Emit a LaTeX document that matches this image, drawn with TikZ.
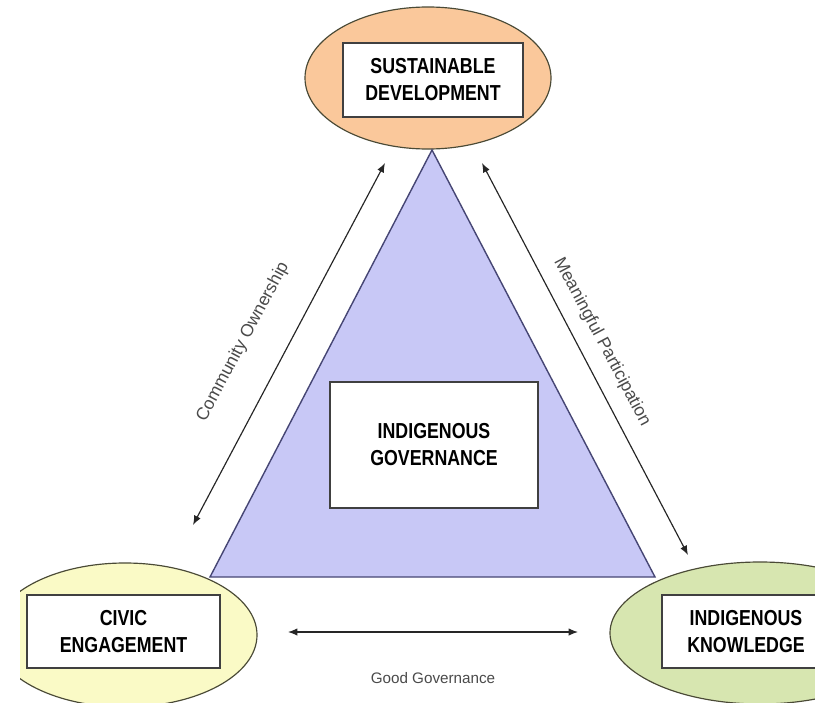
\documentclass[tikz,border=0pt]{standalone}
\usepackage{fontspec}
\setmainfont{Liberation Sans}
\newfontfamily\boxfont[FakeStretch=0.82]{Liberation Sans}
\usepackage{xcolor}
\usetikzlibrary{positioning,shapes.geometric,arrows.meta}

\definecolor{sdorange}{HTML}{FAC89B}
\definecolor{ceyellow}{HTML}{FAFAC6}
\definecolor{ikgreen}{HTML}{D7E6B0}
\definecolor{iglavender}{HTML}{C8C8F6}
\definecolor{rimdark}{HTML}{4A4A36}
\definecolor{labelgray}{HTML}{4A4A4A}

\begin{document}
\begin{tikzpicture}[
    x=0.03cm, y=-0.03cm,
    pillar/.style={
        ellipse, draw=rimdark, line width=1pt, inner sep=0pt
    },
    tag/.style={
        rectangle, draw=black!75, fill=white, line width=1.3pt,
        align=center, inner sep=0pt, font=\boxfont\bfseries\fontsize{18.5}{23}\selectfont
    },
    link/.style={draw=black!85, line width=1pt, {Latex[length=2.8mm,width=2.2mm]}-{Latex[length=2.8mm,width=2.2mm]}},
    linklabel/.style={text=labelgray, font=\fontsize{15}{18}\selectfont}
]
    \useasboundingbox (0,0) rectangle (815,703);
    \clip (20,0) rectangle (815,703);

    % the three corners
    \node [pillar, fill=sdorange, minimum width=7.38cm, minimum height=4.26cm] (sd) at (428,78) {};
    \node [pillar, fill=ceyellow, minimum width=7.92cm, minimum height=4.32cm] (ce) at (125,635) {};
    \node [pillar, fill=ikgreen, minimum width=9cm, minimum height=4.26cm] (ik) at (760,633) {};

    % governance triangle
    \coordinate (apex) at (432,150);
    \coordinate (baseL) at (210,577);
    \coordinate (baseR) at (655,577);
    \filldraw [fill=iglavender, draw=black!60!blue!45!gray, line width=1.2pt, line join=miter]
        (apex) -- (baseR) -- (baseL) -- cycle;

    \node [tag, minimum width=5.4cm, minimum height=2.22cm] (sdtag) at (433,80) {SUSTAINABLE\\DEVELOPMENT};
    \node [tag, minimum width=6.24cm, minimum height=3.78cm] (ig) at (434,445) {INDIGENOUS\\GOVERNANCE};
    \node [tag, minimum width=5.79cm, minimum height=2.19cm] (cetag) at (123.5,631.5) {CIVIC\\ENGAGEMENT};
    \node [tag, minimum width=5.04cm, minimum height=2.19cm] (iktag) at (746,631.5) {INDIGENOUS\\KNOWLEDGE};

    % two-way links between the corners
    \coordinate (coA) at (193,525);
    \coordinate (coB) at (385,163);
    \coordinate (mpA) at (482,163);
    \coordinate (mpB) at (688,555);
    \coordinate (ggA) at (288,632);
    \coordinate (ggB) at (578,632);
    \path [link] (coA) -- (coB);
    \path [link] (mpA) -- (mpB);
    \path [link] (ggA) -- (ggB);

    \node [linklabel, rotate=62] (co) at (243,342) {Community Ownership};
    \node [linklabel, rotate=-62] (mp) at (602,342) {Meaningful Participation};
    \node [linklabel, font=\fontsize{13}{16}\selectfont] (gg) at (433,678) {Good Governance};
\end{tikzpicture}
\end{document}
